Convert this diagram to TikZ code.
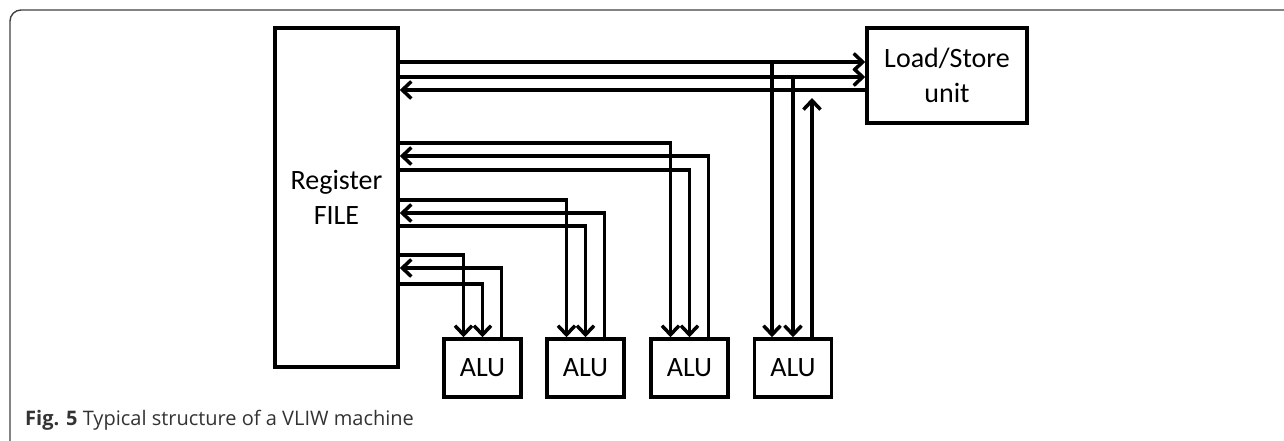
\documentclass[tikz,border=0pt]{standalone}
\usepackage{fontspec}
\setmainfont{Carlito}
\newfontfamily\capfont{Open Sans}
\usetikzlibrary{arrows.meta}
\begin{document}
\begin{tikzpicture}[x=1pt,y=-1pt,
  box/.style={draw, line width=3.5pt, inner sep=0pt, align=center,
    font=\fontsize{28}{35}\selectfont},
  bus/.style={line width=3.5pt, line join=miter},
  tip/.style={bus, -{Straight Barb[length=9pt,width=17pt]}},
]
\useasboundingbox (0,0) rectangle (1284,440);

% outer figure frame
\draw[line width=1.4pt, black!75, rounded corners=11pt] (10,441) -- (10,10) -- (1285,10);

% functional units
\node[box, minimum width=123pt, minimum height=339pt] (reg) at (336.5,197.5) {Register\\FILE};
\node[box, minimum width=160pt, minimum height=95pt] (ls) at (947,75.5) {Load/Store\\unit};
\foreach \i/\cx in {1/482.5, 2/585.5, 3/689.5, 4/793}
  \node[box, minimum width=77pt, minimum height=58pt] (alu\i) at (\cx,368) {ALU};

% register file <-> ALU buses (two operands down, one result back)
\foreach \i/\ya/\yb/\yc in {1/255/268/284, 2/200/213/226, 3/143/156/170} {
  \draw[tip] (reg.east |- 0,\ya) -| ([xshift=-19pt]alu\i.north);
  \draw[tip] ([xshift=19pt]alu\i.north) |- (reg.east |- 0,\yb);
  \draw[tip] (reg.east |- 0,\yc) -| (alu\i.north);
}

% register file <-> load/store unit buses
\draw[tip] (reg.east |- 0,62) -- (ls.west |- 0,62);
\draw[tip] (reg.east |- 0,77) -- (ls.west |- 0,77);
\draw[tip] (ls.west |- 0,90) -- (reg.east |- 0,90);

% fourth ALU taps the load/store buses
\draw[tip] ([xshift=-21pt]alu4.north |- 0,62) -- ([xshift=-21pt]alu4.north);
\draw[tip] (alu4.north |- 0,77) -- (alu4.north);
\coordinate (lsret) at ([xshift=19pt]alu4.north |- 0,98);
\draw[tip] ([xshift=19pt]alu4.north) -- (lsret);

% caption
\node[anchor=base west, inner sep=0pt, font=\capfont\fontsize{20}{24}\selectfont, text=black!80]
  (cap) at (25,425) {\textbf{Fig. 5} Typical structure of a VLIW machine};
\end{tikzpicture}
\end{document}
